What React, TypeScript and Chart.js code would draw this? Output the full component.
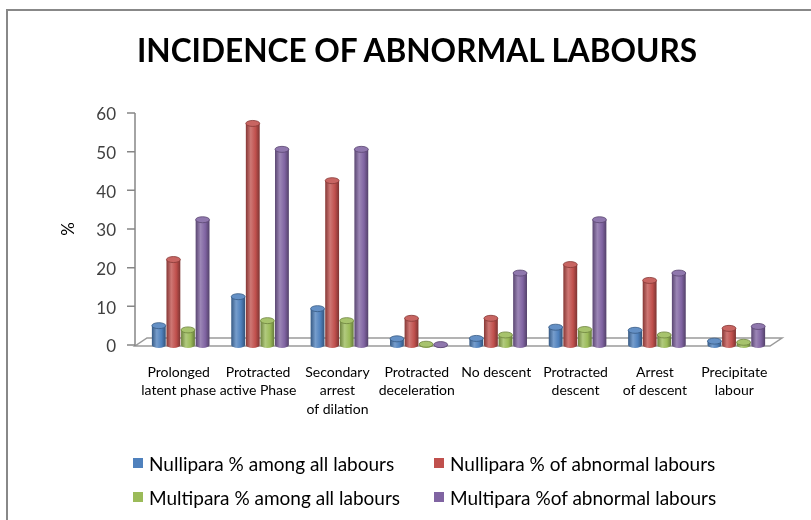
import React, { useEffect, useRef } from "react";
import { Chart, registerables } from "chart.js";

Chart.register(...registerables);

const FONT = 'Lato, "Liberation Sans", sans-serif';

const titleText = "INCIDENCE OF ABNORMAL LABOURS";
const yAxisTitle = "%";

const categories: string[][] = [
  ["Prolonged", "latent phase"],
  ["Protracted", "active Phase"],
  ["Secondary", "arrest", "of dilation"],
  ["Protracted", "deceleration"],
  ["No descent"],
  ["Protracted", "descent"],
  ["Arrest", "of descent"],
  ["Precipitate", "labour"],
];

const seriesNames = [
  "Nullipara % among all labours",
  "Nullipara % of abnormal labours",
  "Multipara % among all labours",
  "Multipara %of abnormal labours",
];

const nulliparaAmongAll = [5.0, 12.5, 9.4, 1.6, 1.7, 4.6, 3.8, 1.0];
const nulliparaOfAbnormal = [22.1, 57.3, 42.5, 6.9, 6.9, 20.8, 16.7, 4.3];
const multiparaAmongAll = [3.9, 6.3, 6.3, 0.2, 2.6, 4.0, 2.6, 0.7];
const multiparaOfAbnormal = [32.4, 50.6, 50.6, 0.1, 18.6, 32.4, 18.6, 4.8];

const yMin = 0;
const yMax = 60;
const yStep = 10;

const seriesColors = ["#4F81BD", "#C0504D", "#9BBB59", "#8064A2"];

const CAT_PCT = 0.735;
const BAR_PCT = 0.95;
const DEPTH_X = 6;

function shade(hex: string, amt: number): string {
  const n = parseInt(hex.slice(1), 16);
  let r = (n >> 16) & 255, g = (n >> 8) & 255, b = n & 255;
  const t = amt < 0 ? 0 : 255;
  const p = Math.abs(amt);
  r = Math.round((t - r) * p + r);
  g = Math.round((t - g) * p + g);
  b = Math.round((t - b) * p + b);
  return `rgb(${r},${g},${b})`;
}

function cylinderFill(base: string) {
  return (ctx: any) => {
    if (ctx.type !== "data") return base;
    const chart = ctx.chart;
    const xs = chart.scales && chart.scales.x;
    if (!xs || !chart.chartArea) return base;
    const n = categories.length;
    const spacing = xs.width / n;
    const group = spacing * CAT_PCT;
    const slot = group / 4;
    const center = xs.getPixelForValue(ctx.dataIndex) - group / 2 + slot * (ctx.datasetIndex + 0.5);
    const half = (slot * BAR_PCT) / 2;
    const g = chart.ctx.createLinearGradient(center - half, 0, center + half, 0);
    g.addColorStop(0, shade(base, -0.3));
    g.addColorStop(0.35, shade(base, 0.22));
    g.addColorStop(0.7, base);
    g.addColorStop(1, shade(base, -0.35));
    return g;
  };
}

const floorPlugin = {
  id: "floor3d",
  beforeDatasetsDraw(chart: any) {
    const { ctx, chartArea, scales } = chart;
    const { left, right, bottom } = chartArea;
    const ys = scales.y;
    ctx.save();
    ctx.beginPath();
    ctx.moveTo(left - DEPTH_X, bottom + 1);
    ctx.lineTo(right - DEPTH_X, bottom + 1);
    ctx.lineTo(right + DEPTH_X, bottom - 7);
    ctx.lineTo(left + DEPTH_X, bottom - 7);
    ctx.closePath();
    ctx.fillStyle = "#ffffff";
    ctx.fill();
    ctx.strokeStyle = "#9a9a9a";
    ctx.lineWidth = 1.5;
    ctx.stroke();
    const ax = left - DEPTH_X;
    ctx.beginPath();
    ctx.strokeStyle = "#868686";
    ctx.lineWidth = 1.5;
    ctx.moveTo(ax, ys.getPixelForValue(yMax));
    ctx.lineTo(ax, bottom + 1);
    for (let v = yMin; v <= yMax; v += yStep) {
      const py = ys.getPixelForValue(v);
      ctx.moveTo(ax - 8, py);
      ctx.lineTo(ax, py);
    }
    ctx.stroke();
    ctx.restore();
  },
};

const capPlugin = {
  id: "cylCaps",
  afterDatasetsDraw(chart: any) {
    const ctx = chart.ctx;
    chart.data.datasets.forEach((ds: any, di: number) => {
      const meta = chart.getDatasetMeta(di);
      const base = seriesColors[di];
      meta.data.forEach((el: any) => {
        const w = el.width / 2;
        ctx.save();
        ctx.beginPath();
        ctx.ellipse(el.x, el.base, w, 3, 0, 0, Math.PI);
        ctx.closePath();
        ctx.fillStyle = el.options.backgroundColor;
        ctx.fill();
        ctx.beginPath();
        ctx.ellipse(el.x, el.y, w, 3, 0, 0, Math.PI * 2);
        ctx.fillStyle = shade(base, 0.12);
        ctx.fill();
        ctx.strokeStyle = shade(base, -0.3);
        ctx.lineWidth = 0.8;
        ctx.stroke();
        ctx.restore();
      });
    });
  },
};

function ChartCanvas() {
  const ref = useRef<HTMLCanvasElement | null>(null);
  useEffect(() => {
    if (!ref.current) return;
    const values = [nulliparaAmongAll, nulliparaOfAbnormal, multiparaAmongAll, multiparaOfAbnormal];
    const chart = new Chart(ref.current, {
      type: "bar",
      data: {
        labels: categories,
        datasets: values.map((v, i) => ({
          label: seriesNames[i],
          data: v,
          backgroundColor: cylinderFill(seriesColors[i]),
          borderWidth: 0,
          categoryPercentage: CAT_PCT,
          barPercentage: BAR_PCT,
        })),
      },
      options: {
        animation: false,
        responsive: false,
        maintainAspectRatio: false,
        layout: { padding: { left: 0, top: 113, right: 35, bottom: 0 } },
        plugins: {
          legend: { display: false },
          title: { display: false },
          tooltip: { enabled: false },
        },
        scales: {
          x: {
            grid: { display: false, drawTicks: false },
            border: { display: false },
            ticks: {
              autoSkip: false,
              maxRotation: 0,
              minRotation: 0,
              padding: 18,
              labelOffset: -2,
              color: "#000000",
              font: { family: FONT, size: 14, lineHeight: 1.32 },
            },
            afterFit: (s: any) => {
              s.height = 175;
            },
          },
          y: {
            min: yMin,
            max: yMax,
            ticks: {
              stepSize: yStep,
              padding: 25,
              labelOffset: 2,
              color: "#404040",
              font: { family: FONT, size: 17 },
            },
            grid: { display: false, drawOnChartArea: false, drawTicks: false },
            border: { display: false },
            title: {
              display: true,
              text: yAxisTitle,
              color: "#000000",
              font: { family: FONT, size: 17 },
              padding: { top: 58, bottom: 0 },
            },
            afterFit: (s: any) => {
              s.width = 141;
            },
          },
        },
      },
      plugins: [floorPlugin, capPlugin],
    });
    return () => chart.destroy();
  }, []);
  return <canvas ref={ref} width={811} height={520} style={{ position: "absolute", left: 0, top: 0, width: 811, height: 520 }} />;
}

export default function App() {
  const legendPos = [
    { left: 133, top: 463 },
    { left: 434, top: 463 },
    { left: 133, top: 497 },
    { left: 434, top: 497 },
  ];
  return (
    <div style={{ position: "absolute", left: 0, top: 0, width: 811, height: 520, overflow: "hidden", background: "#fff" }}>
      <div
        style={{
          position: "absolute",
          left: 6,
          top: 9,
          width: 900,
          height: 600,
          border: "2px solid #888888",
          boxSizing: "border-box",
        }}
      />
      <ChartCanvas />
      <div
        style={{
          position: "absolute",
          left: 137,
          top: 30,
          fontFamily: FONT,
          fontWeight: 700,
          fontSize: 31.6,
          lineHeight: "40px",
          color: "#000",
          whiteSpace: "nowrap",
        }}
      >
        {titleText}
      </div>
      {seriesNames.map((name, i) => (
        <div
          key={name}
          style={{
            position: "absolute",
            left: legendPos[i].left,
            top: legendPos[i].top - 12,
            height: 24,
            display: "flex",
            alignItems: "center",
            fontFamily: FONT,
            fontSize: 19,
            color: "#000",
            whiteSpace: "nowrap",
          }}
        >
          <span style={{ display: "inline-block", width: 10, height: 10, background: seriesColors[i], marginRight: 6 }} />
          <span>{name}</span>
        </div>
      ))}
    </div>
  );
}
